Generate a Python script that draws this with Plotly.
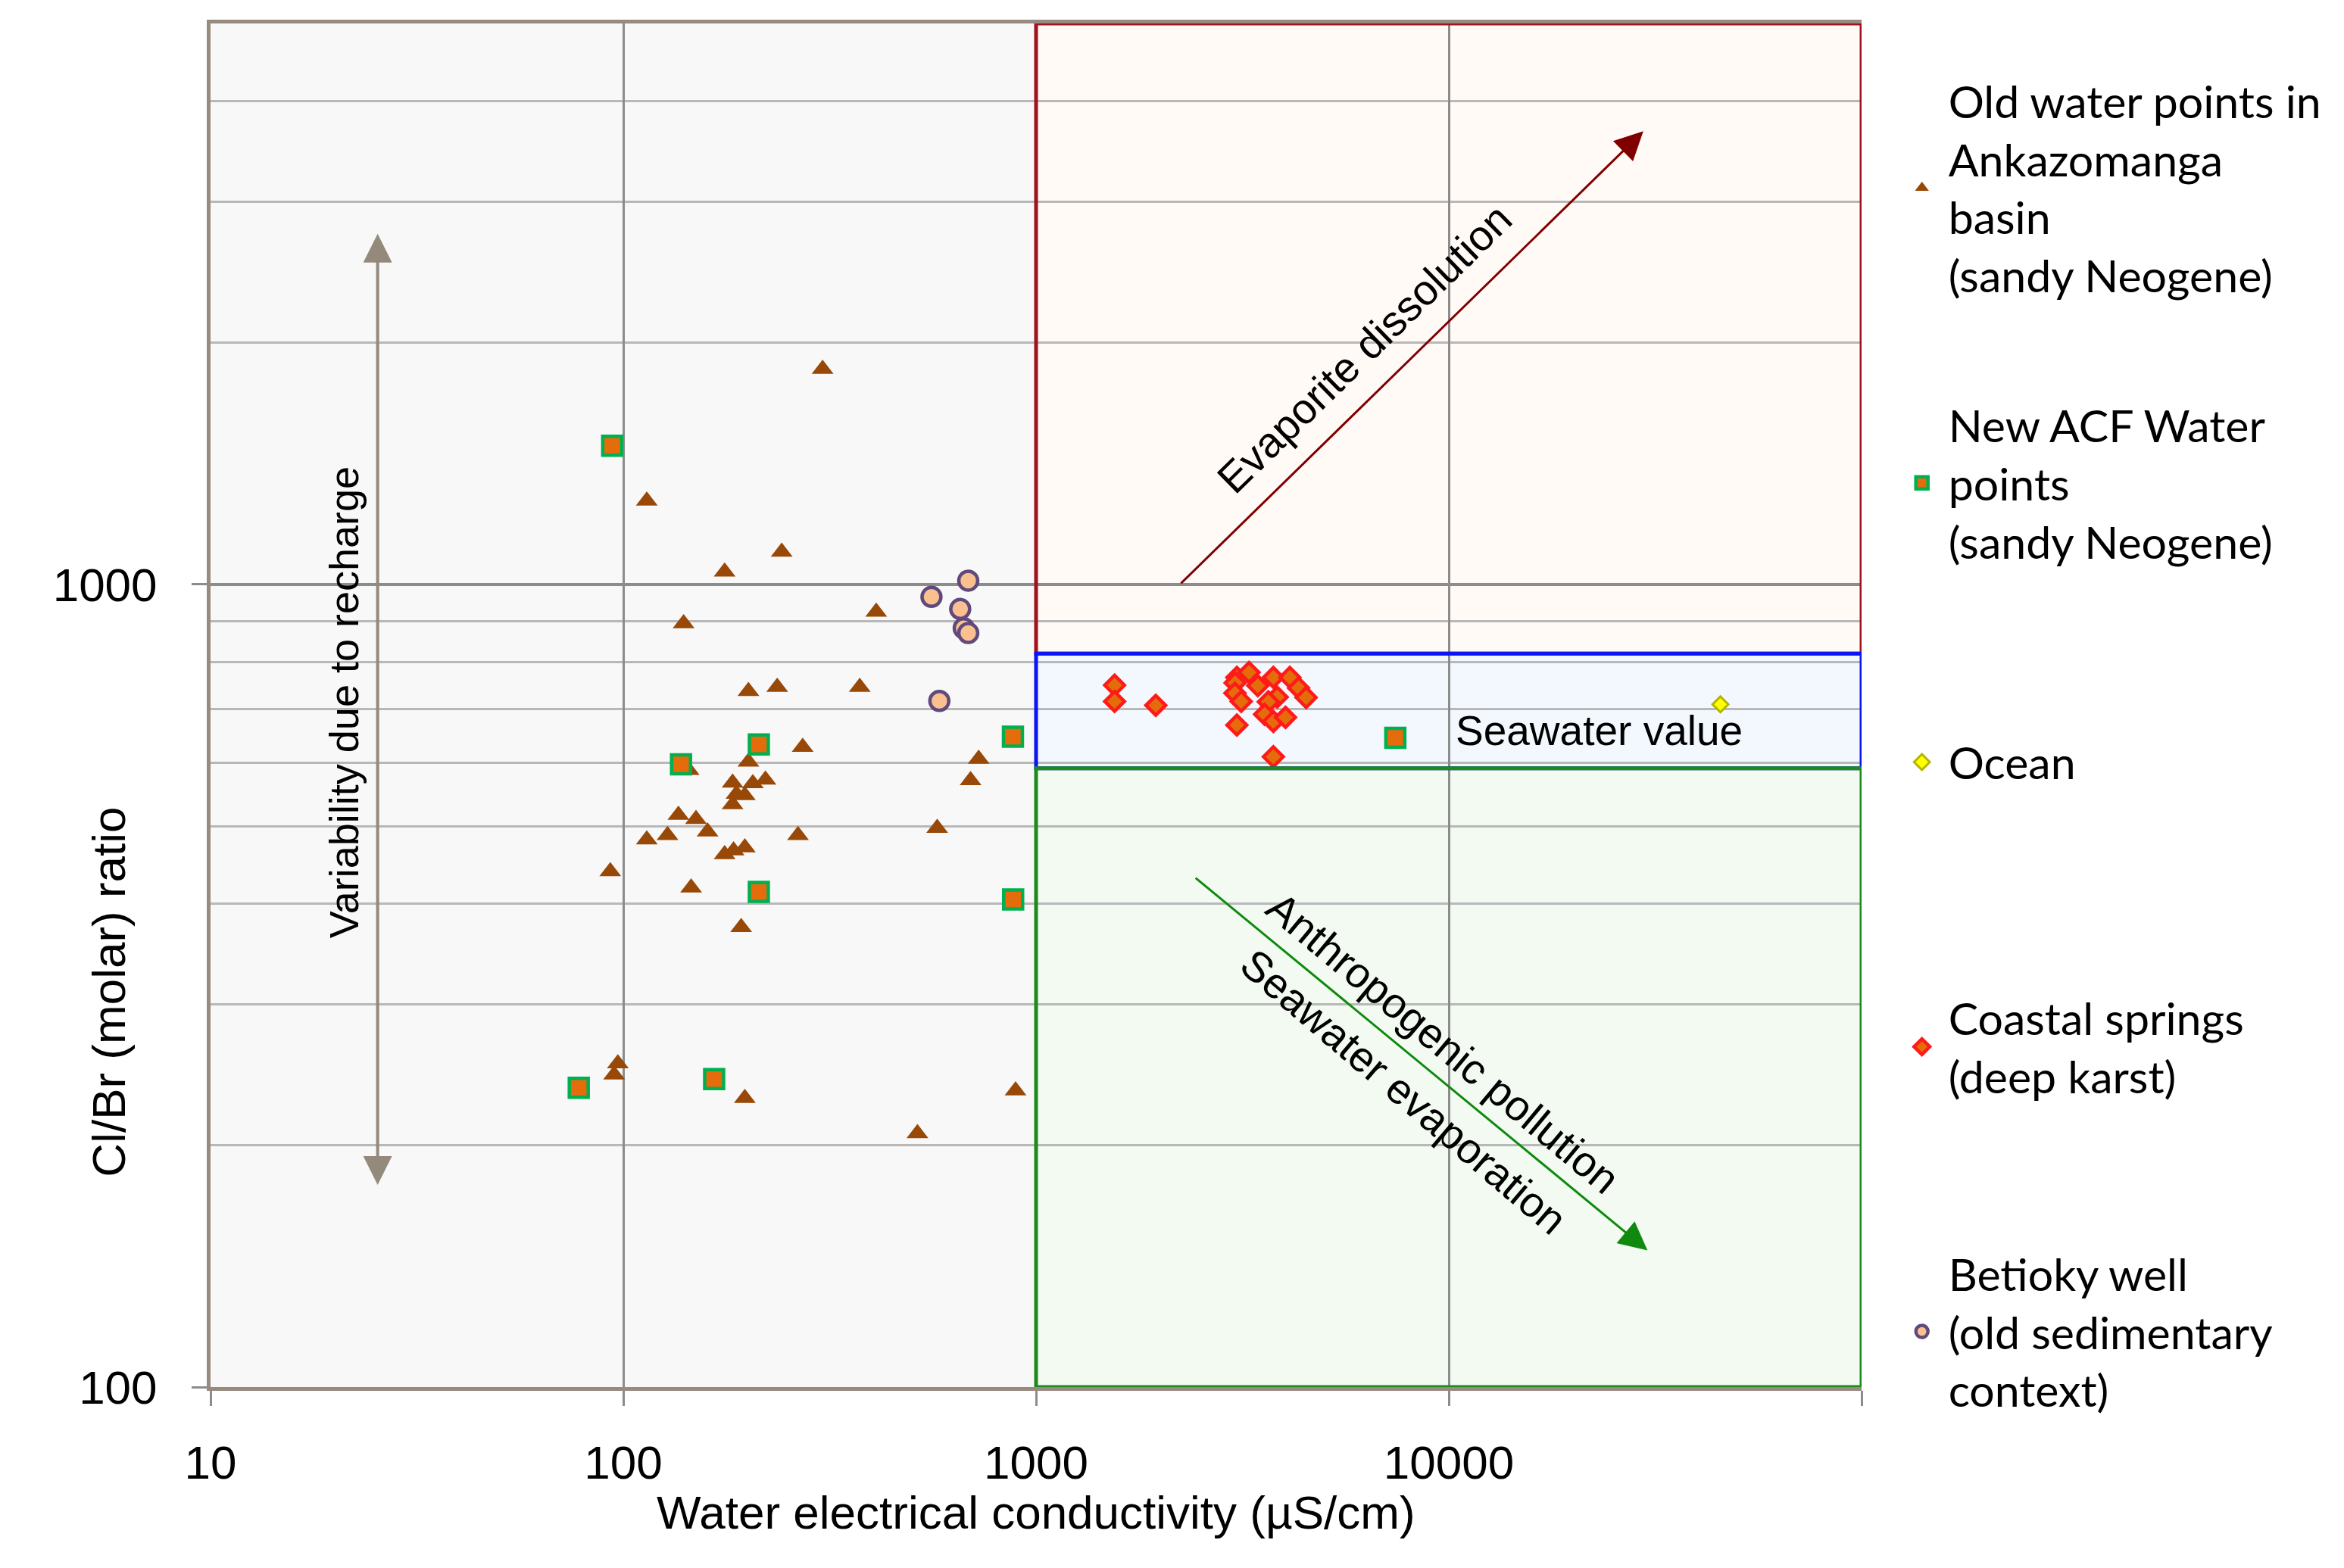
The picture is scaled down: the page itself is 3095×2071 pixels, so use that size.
import numpy as np
import plotly.graph_objects as go

# ---------------- data ----------------
old_x = [304, 114, 242, 176, 410, 140, 201, 236, 374, 272, 144, 201, 726, 694, 184, 206, 221,
         197, 188, 184, 136, 150, 160, 128, 114, 265, 576, 197, 185, 176, 93, 146, 193, 97, 95,
         197, 892, 516]
old_y = [1855, 1271, 1098, 1037, 924, 894, 736, 745, 745, 627, 587, 601, 606, 570, 566, 565, 571,
         546, 548, 532, 516, 510, 492, 487, 481, 487, 497, 470, 466, 461, 439, 419, 374, 253, 245,
         229, 234, 207]

acf_x = [94, 213, 879, 138, 213, 880, 78, 166, 7420]
acf_y = [1489, 632, 646, 597, 414, 405, 236, 242, 644]

ocean_x = [45500]
ocean_y = [709]

coast_x = [1550, 1550, 1950, 3066, 3281, 3445, 3758, 4120, 4326, 4512, 3036, 3033, 3141, 3839,
           3654, 3578, 3758, 4022, 3066, 3758]
coast_y = [749, 715, 707, 766, 777, 748, 766, 766, 743, 723, 754, 732, 715, 724,
           714, 689, 675, 683, 668, 610]

betioky_x = [685, 558, 655, 668, 685, 583]
betioky_y = [1011, 965, 932, 882, 870, 716]

x_tickvals = [10, 100, 1000, 10000, 100000]
x_ticktext = ["10", "100", "1000", "10000", ""]
y_tickvals = [100, 1000]
y_minor = [200, 300, 400, 500, 600, 700, 800, 900, 2000, 3000, 4000]

# zones (EC limits, Cl/Br limits)
zone_ec = [1000, 100000]
zone_clbr = [100, 590, 820, 5000]

# arrows (start, end) in data units
evap_arrow = [(2230, 1000), (29600, 3670)]
anth_arrow = [(2420, 432), (30300, 148)]
recharge_arrow = [(25.4, 178), (25.4, 2735)]

names = [
    "Old water points in<br>Ankazomanga<br>basin<br>(sandy Neogene)",
    "New ACF Water<br>points<br>(sandy Neogene)",
    "Ocean",
    "Coastal springs<br>(deep karst)",
    "Betioky well<br>(old sedimentary<br>context)",
]

# ---------------- figure ----------------
AX_FONT = "Liberation Sans, Arial, sans-serif"
LEG_FONT = "Lato, Calibri, sans-serif"

fig = go.Figure()

fig.add_trace(go.Scatter(x=old_x, y=old_y, mode="markers", name=names[0], legend="legend",
                         marker=dict(symbol="triangle-up", size=25, color="#984807",
                                     line=dict(width=0))))
fig.add_trace(go.Scatter(x=acf_x, y=acf_y, mode="markers", name=names[1], legend="legend2",
                         marker=dict(symbol="square", size=25, color="#e46c0a",
                                     line=dict(width=4.5, color="#00b050"))))
fig.add_trace(go.Scatter(x=ocean_x, y=ocean_y, mode="markers", name=names[2], legend="legend3",
                         marker=dict(symbol="diamond", size=16, color="#ffff00",
                                     line=dict(width=3, color="#b5b500"))))
fig.add_trace(go.Scatter(x=coast_x, y=coast_y, mode="markers", name=names[3], legend="legend4",
                         marker=dict(symbol="diamond", size=20, color="#e46c0a",
                                     line=dict(width=4.5, color="#ff1a1a"))))
fig.add_trace(go.Scatter(x=betioky_x, y=betioky_y, mode="markers", name=names[4], legend="legend5",
                         marker=dict(symbol="circle", size=25, color="#fac090",
                                     line=dict(width=4.5, color="#604a7b"))))

# zone fills (below grid) and outlines (above)
zones = [
    (zone_clbr[2], zone_clbr[3], "#fffaf6", "#a0121e"),
    (zone_clbr[1], zone_clbr[2], "#f2f8fd", "#0a14f5"),
    (zone_clbr[0], zone_clbr[1], "#f2faf1", "#1e8a1e"),
]
for y0, y1, fill, _ in zones:
    fig.add_shape(type="rect", xref="x", yref="y", x0=zone_ec[0], x1=zone_ec[1], y0=y0, y1=y1,
                  fillcolor=fill, line=dict(width=0), layer="below")
for y0, y1, _, col in zones:
    fig.add_shape(type="rect", xref="x", yref="y", x0=zone_ec[0], x1=zone_ec[1], y0=y0, y1=y1,
                  fillcolor="rgba(0,0,0,0)", line=dict(width=5, color=col), layer="above")

L = np.log10

# arrows
def arrow(p0, p1, color, width, both=False, size=2.2):
    fig.add_annotation(x=L(p1[0]), y=L(p1[1]), ax=L(p0[0]), ay=L(p0[1]),
                       xref="x", yref="y", axref="x", ayref="y", text="",
                       showarrow=True, arrowhead=2, arrowsize=size, arrowwidth=width,
                       arrowcolor=color, arrowside="end+start" if both else "end",
                       startarrowhead=2, startarrowsize=size)

arrow(evap_arrow[0], evap_arrow[1], "#800000", 3, size=2.5)
arrow(anth_arrow[0], anth_arrow[1], "#0f8a0f", 3, size=2.5)
arrow(recharge_arrow[0], recharge_arrow[1], "#948a7c", 4, both=True, size=1.9)

txt_font = dict(family=AX_FONT, size=56, color="black")
fig.add_annotation(x=3.795, y=3.294, xref="x", yref="y", text="Evaporite dissolution",
                   textangle=-44.4, showarrow=False, font=txt_font)
fig.add_annotation(x=3.987, y=2.429, xref="x", yref="y", text="Anthropogenic pollution",
                   textangle=39.8, showarrow=False, font=txt_font)
fig.add_annotation(x=3.890, y=2.368, xref="x", yref="y", text="Seawater evaporation",
                   textangle=40.5, showarrow=False, font=txt_font)
fig.add_annotation(x=1.322, y=2.853, xref="x", yref="y", text="Variability due to recharge",
                   textangle=-90, showarrow=False, font=dict(family=AX_FONT, size=54, color="black"))
fig.add_annotation(x=L(10300), y=L(658), xref="x", yref="y", text="Seawater value",
                   xanchor="left", showarrow=False, font=dict(family=AX_FONT, size=55, color="black"))

# axis titles as annotations
fig.add_annotation(x=0.5, y=-0.092, xref="paper", yref="paper", yanchor="middle",
                   text="Water electrical conductivity (µS/cm)", showarrow=False,
                   font=dict(family=AX_FONT, size=62, color="black"))
fig.add_annotation(x=-0.0615, y=0.29, xref="paper", yref="paper", xanchor="center", yanchor="middle",
                   text="Cl/Br (molar) ratio", textangle=-90, showarrow=False,
                   font=dict(family=AX_FONT, size=62, color="black"))

# legends, one per series
leg_y = [0.8795, 0.6628, 0.4583, 0.2494, 0.0405]
leg_common = dict(font=dict(family=LEG_FONT, size=59, color="black"), bgcolor="rgba(0,0,0,0)",
                  xanchor="left", yanchor="middle", itemwidth=60, x=1.0205)
legs = {}
for i, yy in enumerate(leg_y):
    key = "legend" if i == 0 else f"legend{i+1}"
    legs[key] = dict(leg_common, y=yy)

fig.update_layout(
    width=3087, height=2063,
    margin=dict(l=270, r=637, t=23, b=239),
    paper_bgcolor="white", plot_bgcolor="#f8f8f8",
    showlegend=True,
    **legs,
)

fig.update_xaxes(type="log", range=[1, 5], tickvals=x_tickvals, ticktext=x_ticktext,
                 showgrid=True, gridcolor="#8c8c8c", gridwidth=3,
                 showline=True, linecolor="#968b7e", linewidth=5, mirror=True,
                 ticks="outside", ticklen=20, tickwidth=3, tickcolor="#8c8c8c",
                 ticklabelstandoff=22,
                 tickfont=dict(family=AX_FONT, size=62, color="black"), zeroline=False)
fig.update_yaxes(type="log", range=[2, np.log10(5000)], tickvals=y_tickvals,
                 ticktext=["100", "1000"],
                 showgrid=True, gridcolor="#8c8c8c", gridwidth=4,
                 minor=dict(tickvals=y_minor, showgrid=True, gridcolor="#b8b8b8", gridwidth=3,
                            ticks=""),
                 showline=True, linecolor="#968b7e", linewidth=5,
                 ticks="outside", ticklen=20, tickwidth=3, tickcolor="#8c8c8c",
                 ticklabelstandoff=33,
                 tickfont=dict(family=AX_FONT, size=62, color="black"), zeroline=False)

fig.write_html("out.html")
